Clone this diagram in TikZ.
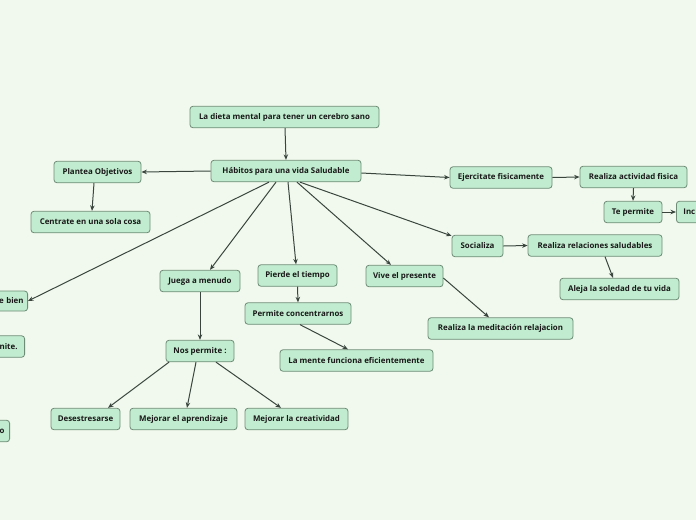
\documentclass[tikz,border=0pt]{standalone}
\usepackage{fontspec}
\setmainfont{Open Sans}
\usetikzlibrary{arrows.meta}
\definecolor{bgc}{HTML}{F1F9EE}
\definecolor{nodef}{HTML}{C1ECCF}
\definecolor{nodeb}{HTML}{6E8C76}
\definecolor{linec}{HTML}{3A463D}
\begin{document}
\begin{tikzpicture}[x=1pt,y=-1pt,
  box/.style={draw=nodeb, fill=nodef, rounded corners=3pt, line width=0.8pt,
    minimum height=21.5pt, inner sep=0pt, text=black!90,
    font=\bfseries\fontsize{7.9}{9}\selectfont},
  conn/.style={draw=linec, line width=1pt, -{Stealth[length=5.5pt,width=4.5pt]}}]
\fill[bgc] (0,0) rectangle (696,520);
\useasboundingbox (0,0) rectangle (696,520);

\node[box, minimum width=189pt] (dieta) at (284.5,117) {La dieta mental para tener un cerebro sano};
\node[box, minimum width=150pt] (hab) at (286,171) {Hábitos para una vida Saludable};
\node[box, minimum width=87pt] (plan) at (97.5,172) {Plantea Objetivos};
\node[box, minimum width=119pt] (cen) at (90.5,222) {Centrate en una sola cosa};
\node[box, minimum width=102pt] (ejer) at (501,177.5) {Ejercitate fisicamente};
\node[box, minimum width=107pt] (act) at (633.5,177) {Realiza actividad fisica};
\node[box, minimum width=58pt] (tep) at (633,212) {Te permite};
\node[box, anchor=west, text width=60pt, align=left, inner xsep=7pt] (inc) at (676,212) {Inc};
\node[box, minimum width=51pt] (soc) at (477.5,246) {Socializa};
\node[box, minimum width=134pt] (rel) at (595,245.5) {Realiza relaciones saludables};
\node[box, minimum width=119pt] (ale) at (619.5,289) {Aleja la soledad de tu vida};
\node[box, minimum width=80pt] (jue) at (200,281) {Juega a menudo};
\node[box, minimum width=79pt] (pie) at (297.5,275.5) {Pierde el tiempo};
\node[box, minimum width=77pt] (viv) at (404.5,276) {Vive el presente};
\node[box, minimum width=106pt] (per) at (298,313.5) {Permite concentrarnos};
\node[box, minimum width=153pt] (men) at (356.5,360.5) {La mente funciona eficientemente};
\node[box, minimum width=145pt] (rea) at (500.5,328.5) {Realiza la meditación relajacion};
\node[box, minimum width=68pt] (nos) at (200,351) {Nos permite :};
\node[box, minimum width=69pt] (des) at (85.5,419) {Desestresarse};
\node[box, minimum width=107pt] (mej1) at (183.5,419) {Mejorar el aprendizaje};
\node[box, minimum width=103pt] (mej2) at (296.5,419) {Mejorar la creatividad};
\node[box, anchor=east, text width=50pt, align=right, inner xsep=4pt, minimum height=20pt] (lb) at (28,301) {e bien};
\node[box, anchor=east, text width=50pt, align=right, inner xsep=7pt] (ln) at (25,346.5) {nite.};
\node[box, anchor=east, text width=50pt, align=right, inner xsep=5pt] (lo) at (10,431) {o};

\draw[conn] ([xshift=0.5pt]dieta.south) -- (hab.north);
\draw[conn] (hab.west) -- (plan.east);
\draw[conn] ([xshift=-3.5pt]plan.south) -- ([xshift=1.5pt]cen.north);
\draw[conn] ([yshift=-2pt]hab.east) -- (ejer.west);
\draw[conn] (ejer.east) -- (act.west);
\draw[conn] (act.south) -- (tep.north);
\draw[conn] (tep.east) -- (inc.west);
\draw[conn] ([xshift=14pt]hab.south) -- ([yshift=-1pt]soc.north west);
\draw[conn] (soc.east) -- (rel.west);
\draw[conn] ([xshift=10pt]rel.south) -- ([xshift=-6.5pt]ale.north);
\draw[conn] ([xshift=-10pt]hab.south) -- ([xshift=10pt]jue.north);
\draw[conn] ([xshift=2pt]hab.south) -- ([xshift=-1.5pt]pie.north);
\draw[conn] ([xshift=11pt]hab.south) -- ([xshift=-13.5pt]viv.north);
\draw[conn] ([xshift=-17pt]hab.south) -- (lb.east);
\draw[conn] (pie.south) -- (per.north);
\draw[conn] ([xshift=2pt]per.south) -- ([xshift=-8.5pt]men.north);
\draw[conn] ([yshift=-2pt]viv.east) -- ([xshift=-11.5pt]rea.north);
\draw[conn] (jue.south) -- (nos.north);
\draw[conn] ([xshift=-31pt]nos.south) -- ([xshift=22.5pt]des.north);
\draw[conn] ([xshift=-4pt]nos.south) -- ([xshift=3.5pt]mej1.north);
\draw[conn] ([xshift=16pt]nos.south) -- ([xshift=-15.5pt]mej2.north);
\end{tikzpicture}
\end{document}
